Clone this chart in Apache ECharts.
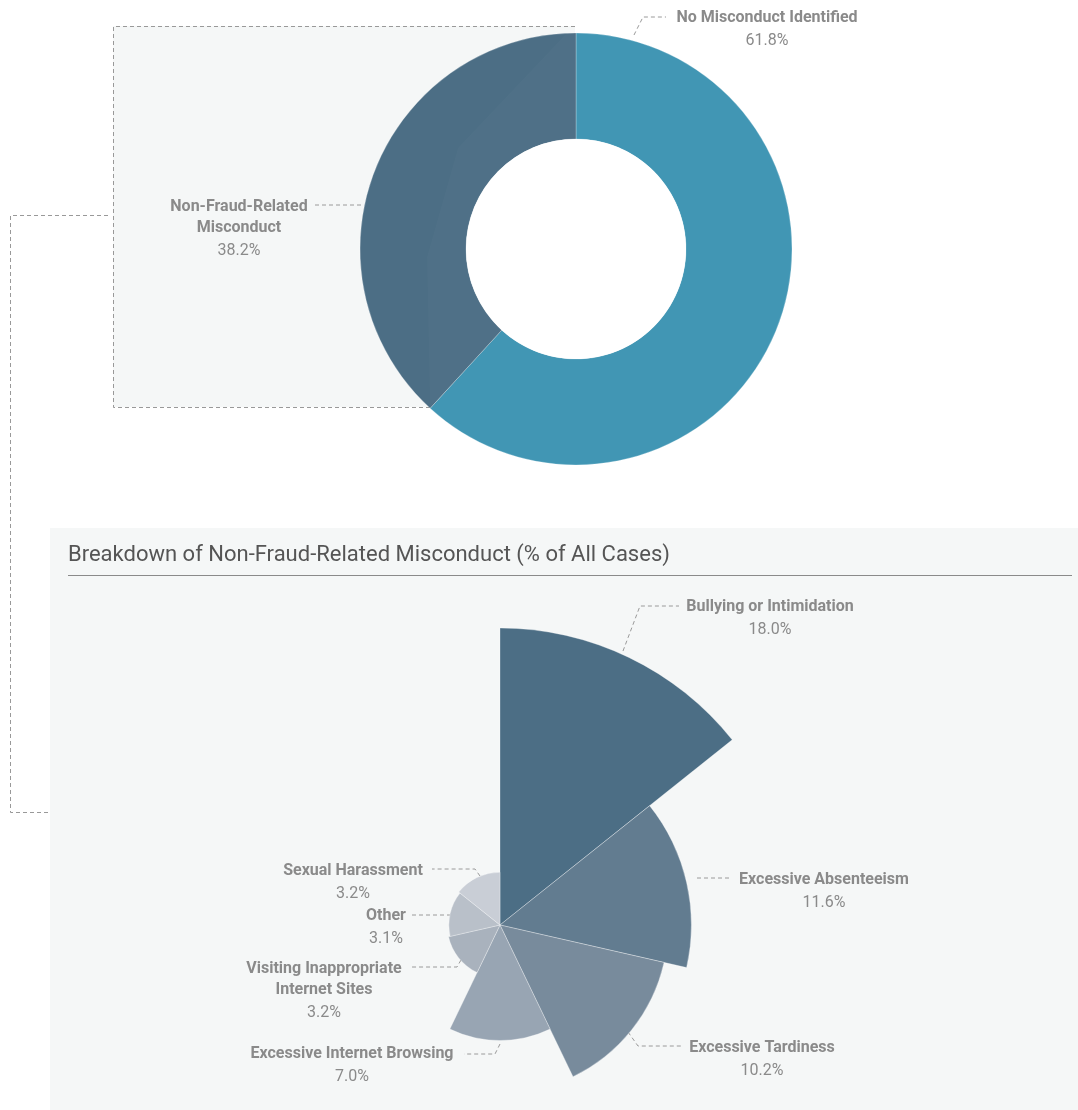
<!DOCTYPE html>
<html><head><meta charset="utf-8">
<script src="https://cdn.jsdelivr.net/npm/echarts@6/dist/echarts.min.js"></script>
<style>html,body{margin:0;padding:0;background:#fff}#c{width:1078px;height:1110px}</style>
</head><body><div id="c"></div>
<script>
// ---- data ----
const overviewCategories = ['No Misconduct Identified', 'Non-Fraud-Related Misconduct'];
const overviewValues = [61.8, 38.2];
const breakdownCategories = ['Bullying or Intimidation', 'Excessive Absenteeism', 'Excessive Tardiness',
  'Excessive Internet Browsing', 'Visiting Inappropriate Internet Sites', 'Other', 'Sexual Harassment'];
const breakdownValues = [18.0, 11.6, 10.2, 7.0, 3.2, 3.1, 3.2];
const titleText = 'Breakdown of Non-Fraud-Related Misconduct (% of All Cases)';

// ---- styles ----
const overviewColors = ['#4196b4', '#4c6e85'];
const breakdownColors = ['#4c6e85', '#627c90', '#788b9c', '#98a5b3', '#a9b2bd', '#b9c0c9', '#c9ced6'];
const labelFont = "'Roboto', sans-serif";
const labelColor = '#8a8a8a';
const lineColor = '#9a9a9a';
const wrapNames = {
  'Non-Fraud-Related Misconduct': ['Non-Fraud-Related', 'Misconduct'],
  'Visiting Inappropriate Internet Sites': ['Visiting Inappropriate', 'Internet Sites']
};
function fmt(p) {
  const lines = wrapNames[p.name] || [p.name];
  return lines.map(l => '{n|' + l + '}').join('\n') + '\n{v|' + p.value.toFixed(1) + '%}';
}
const rich = {
  n: { fontFamily: labelFont, fontWeight: 'bold', fontSize: 16, color: labelColor, lineHeight: 21, align: 'center' },
  v: { fontFamily: labelFont, fontWeight: 'normal', fontSize: 16, color: labelColor, lineHeight: 25, align: 'center' }
};
// label placement: [text centre x, text top y, leader points]
const overviewLabelPlace = [
  { x: 767, y: 7, pts: [[634, 35], [643, 17], [666, 17]] },
  { x: 239, y: 196, pts: [[361, 205], [336, 205], [313, 205]] }
];
const breakdownLabelPlace = [
  { x: 770, y: 596, pts: [[623, 651], [640, 606], [679, 606]] },
  { x: 824, y: 869, pts: [[697, 878], [715, 878], [732, 878]] },
  { x: 762, y: 1037, pts: [[628, 1032], [638, 1046], [683, 1046]] },
  { x: 352, y: 1043, pts: [[500, 1044], [495, 1054], [464, 1054]] },
  { x: 324, y: 958, pts: [[461, 960], [457, 967], [412, 967]] },
  { x: 386, y: 905, pts: [[451, 915], [432, 915], [412, 915]] },
  { x: 353, y: 860, pts: [[480, 876], [475, 869], [432, 869]] }
];
function layoutFrom(place) {
  return function (params) {
    const p = place[params.dataIndex];
    return { x: p.x, y: p.y, align: 'center', verticalAlign: 'top', labelLinePoints: p.pts };
  };
}
const dashed = { stroke: '#999999', lineWidth: 1, lineDash: [4, 3], fill: null };

const chart = echarts.init(document.getElementById('c'), null, { renderer: 'canvas' });
chart.setOption({
  animation: false,
  backgroundColor: '#ffffff',
  title: {
    text: titleText, left: 68, top: 544, padding: 0,
    textStyle: { fontFamily: "'Roboto', sans-serif", fontWeight: 'normal', fontSize: 22, color: '#555' }
  },
  graphic: [
    { type: 'rect', z: -10, shape: { x: 113, y: 26, width: 462, height: 381 }, style: { fill: '#f5f7f7' } },
    { type: 'rect', z: -10, shape: { x: 50, y: 528, width: 1028, height: 582 }, style: { fill: '#f5f7f7' } },
    { type: 'line', z: -5, shape: { x1: 68, y1: 575.5, x2: 1072, y2: 575.5 }, style: { stroke: '#8a8a8a', lineWidth: 1 } },
    { type: 'polyline', z: -5, shape: { points: [[575, 26.5], [113.5, 26.5], [113.5, 407.5], [430, 407.5]] }, style: dashed },
    { type: 'polyline', z: -5, shape: { points: [[108, 215.5], [10.5, 215.5], [10.5, 812.5], [48, 812.5]] }, style: dashed },
    // subtle lighter shading inside the dark donut slice
    { type: 'polygon', z: 50, silent: true, shape: { points: [[576, 249], [576, 33], [567, 33], [458, 148], [427, 257], [430, 407]] },
      style: { fill: 'rgba(255,255,255,0.018)' } },
    // white donut hole
    { type: 'circle', z: 60, silent: true, shape: { cx: 576, cy: 249, r: 110 }, style: { fill: '#ffffff' } }
  ],
  series: [
    {
      type: 'pie', center: [576, 249], radius: [110, 216], startAngle: 90, clockwise: true,
      avoidLabelOverlap: false,
      itemStyle: { borderColor: 'rgba(255,255,255,0.5)', borderWidth: 0.5 },
      label: { show: true, position: 'outside', formatter: fmt, rich: rich },
      labelLine: { show: true, lineStyle: { color: lineColor, width: 1, type: [4, 3] } },
      labelLayout: layoutFrom(overviewLabelPlace),
      emphasis: { disabled: true },
      data: overviewCategories.map((n, i) => ({ name: n, value: overviewValues[i], itemStyle: { color: overviewColors[i] } }))
    },
    {
      type: 'pie', roseType: 'area', center: [500, 925], radius: [0, 297], startAngle: 90, clockwise: true,
      avoidLabelOverlap: false,
      itemStyle: { borderColor: 'rgba(255,255,255,0.6)', borderWidth: 0.5 },
      label: { show: true, position: 'outside', formatter: fmt, rich: rich },
      labelLine: { show: true, lineStyle: { color: lineColor, width: 1, type: [4, 3] } },
      labelLayout: layoutFrom(breakdownLabelPlace),
      emphasis: { disabled: true },
      data: breakdownCategories.map((n, i) => ({ name: n, value: breakdownValues[i], itemStyle: { color: breakdownColors[i] } }))
    }
  ]
});
</script>
</body></html>
